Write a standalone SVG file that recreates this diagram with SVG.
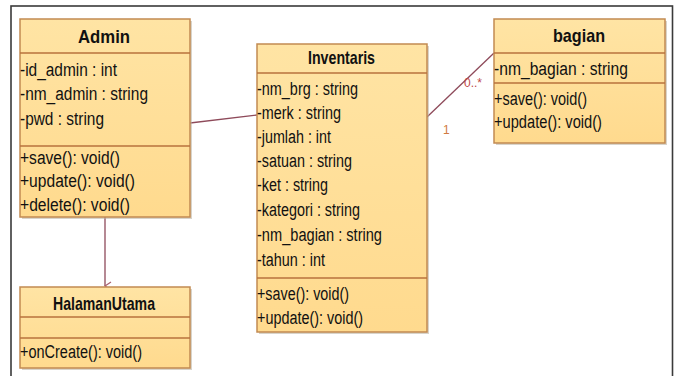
<svg xmlns="http://www.w3.org/2000/svg" width="678" height="376" viewBox="0 0 678 376">
<defs>
<linearGradient id="boxfill" x1="0" y1="0" x2="0" y2="1">
<stop offset="0" stop-color="#FFE4A4"/>
<stop offset="1" stop-color="#FFDA8E"/>
</linearGradient>
<marker id="openarrow" markerWidth="10" markerHeight="10" refX="5" refY="8" orient="auto" markerUnits="userSpaceOnUse">
<path d="M1,2 L5,8 L9,2" fill="none" stroke="#A86070" stroke-width="1.2"/>
</marker>
</defs>
<style>
.shadow{fill:#b8b0a0;opacity:0.55}
.box{fill:url(#boxfill);stroke:#C28A52;stroke-width:1.5}
.sep{stroke:#B9723C;stroke-width:1.6}
.hdr{font-family:"Liberation Sans",Arial,sans-serif;font-weight:bold;font-size:18.5px;fill:#111;text-anchor:middle}
.mem{font-family:"Liberation Sans",Arial,sans-serif;font-size:18px;fill:#111}
.conn{fill:none;stroke:#8E4A5A;stroke-width:1.3}
.lbl{font-family:"Liberation Sans",Arial,sans-serif;font-size:12px}
</style>
<rect x="0" y="0" width="678" height="376" fill="#ffffff"/>
<rect x="11" y="6" width="661.5" height="380" fill="none" stroke="#3a3a3a" stroke-width="1.6"/>

<g id="connectors">
<path class="conn" d="M190,123 L257,115"/>
<path class="conn" d="M427,117 L494,53"/>
<path class="conn" d="M105,217 L105,286" stroke="#A86070" marker-end="url(#openarrow)"/>
<text class="lbl" x="464" y="87" fill="#C04848">0..*</text>
<text class="lbl" x="443" y="134" fill="#D07A40">1</text>
</g>

<g id="Admin">
<rect class="shadow" x="22" y="21" width="170" height="198"/>
<rect class="box" x="20" y="19" width="170" height="198"/>
<line class="sep" x1="20" y1="53" x2="190" y2="53"/>
<line class="sep" x1="20" y1="146" x2="190" y2="146"/>
<text class="hdr" x="104" y="43" textLength="52" lengthAdjust="spacingAndGlyphs">Admin</text>
<text class="mem" x="20" y="75.5" textLength="97" lengthAdjust="spacingAndGlyphs">-id_admin : int</text>
<text class="mem" x="20" y="100" textLength="128" lengthAdjust="spacingAndGlyphs">-nm_admin : string</text>
<text class="mem" x="20" y="124.5" textLength="84" lengthAdjust="spacingAndGlyphs">-pwd : string</text>
<text class="mem" x="20" y="163.5" textLength="100" lengthAdjust="spacingAndGlyphs">+save(): void()</text>
<text class="mem" x="20" y="187" textLength="115" lengthAdjust="spacingAndGlyphs">+update(): void()</text>
<text class="mem" x="20" y="210.5" textLength="110" lengthAdjust="spacingAndGlyphs">+delete(): void()</text>
</g>

<g id="Inventaris">
<rect class="shadow" x="259" y="46" width="170" height="288"/>
<rect class="box" x="257" y="44" width="170" height="288"/>
<line class="sep" x1="257" y1="73" x2="427" y2="73"/>
<line class="sep" x1="257" y1="278" x2="427" y2="278"/>
<text class="hdr" x="341.5" y="64" textLength="67" lengthAdjust="spacingAndGlyphs">Inventaris</text>
<text class="mem" x="257" y="94.5" textLength="101" lengthAdjust="spacingAndGlyphs">-nm_brg : string</text>
<text class="mem" x="257" y="118.5" textLength="84" lengthAdjust="spacingAndGlyphs">-merk : string</text>
<text class="mem" x="257" y="142.5" textLength="74" lengthAdjust="spacingAndGlyphs">-jumlah : int</text>
<text class="mem" x="257" y="166.5" textLength="95" lengthAdjust="spacingAndGlyphs">-satuan : string</text>
<text class="mem" x="257" y="191" textLength="71" lengthAdjust="spacingAndGlyphs">-ket : string</text>
<text class="mem" x="257" y="216" textLength="103" lengthAdjust="spacingAndGlyphs">-kategori : string</text>
<text class="mem" x="257" y="241" textLength="125" lengthAdjust="spacingAndGlyphs">-nm_bagian : string</text>
<text class="mem" x="257" y="266" textLength="68" lengthAdjust="spacingAndGlyphs">-tahun : int</text>
<text class="mem" x="257" y="300" textLength="92" lengthAdjust="spacingAndGlyphs">+save(): void()</text>
<text class="mem" x="257" y="324" textLength="106" lengthAdjust="spacingAndGlyphs">+update(): void()</text>
</g>

<g id="bagian">
<rect class="shadow" x="496" y="21" width="171" height="124"/>
<rect class="box" x="494" y="19" width="171" height="124"/>
<line class="sep" x1="494" y1="53" x2="665" y2="53"/>
<line class="sep" x1="494" y1="83" x2="665" y2="83"/>
<text class="hdr" x="579" y="42" textLength="52" lengthAdjust="spacingAndGlyphs">bagian</text>
<text class="mem" x="494" y="75" textLength="134" lengthAdjust="spacingAndGlyphs">-nm_bagian : string</text>
<text class="mem" x="494" y="105" textLength="93" lengthAdjust="spacingAndGlyphs">+save(): void()</text>
<text class="mem" x="494" y="128" textLength="108" lengthAdjust="spacingAndGlyphs">+update(): void()</text>
</g>

<g id="HalamanUtama">
<rect class="shadow" x="22" y="289" width="170" height="81"/>
<rect class="box" x="20" y="287" width="170" height="81"/>
<line class="sep" x1="20" y1="317" x2="190" y2="317"/>
<line class="sep" x1="20" y1="338" x2="190" y2="338"/>
<text class="hdr" x="104" y="310" textLength="102" lengthAdjust="spacingAndGlyphs">HalamanUtama</text>
<text class="mem" x="20" y="358" textLength="122" lengthAdjust="spacingAndGlyphs">+onCreate(): void()</text>
</g>
</svg>
